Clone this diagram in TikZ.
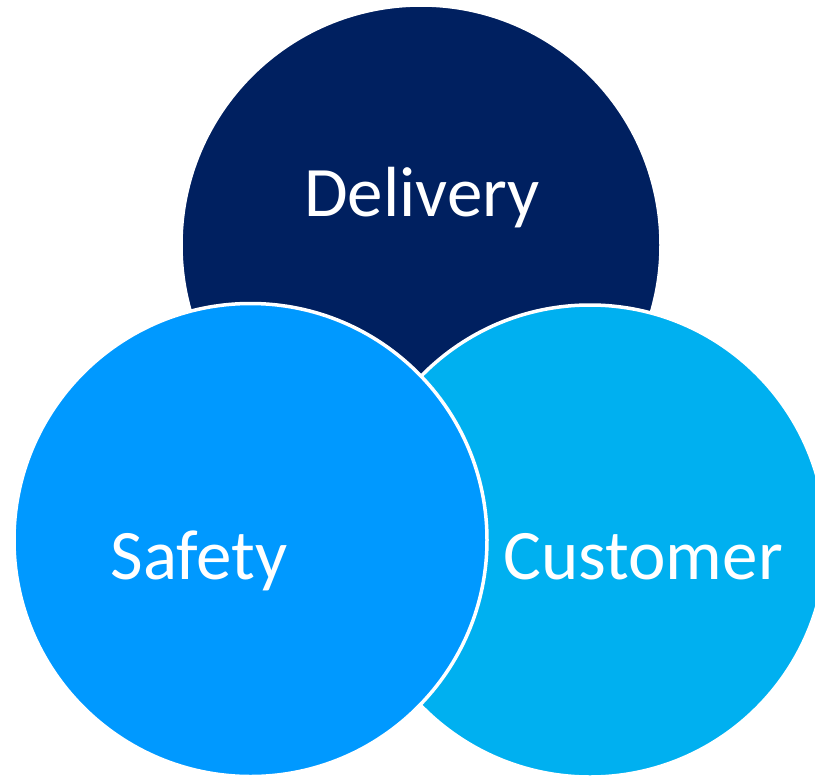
\documentclass[tikz,border=0pt]{standalone}
\usepackage{fontspec}
\setmainfont{Carlito}
\definecolor{cDel}{HTML}{002060}
\definecolor{cSaf}{HTML}{0099FF}
\definecolor{cCus}{HTML}{00B0F0}
\begin{document}
\begin{tikzpicture}[x=1pt,y=-1pt,
  circ/.style={draw=white,line width=3.5pt},
  lbl/.style={text=white,font=\fontsize{71}{71}\selectfont,anchor=base}]
\useasboundingbox (0,0) rectangle (815,777);
\clip (0,0) rectangle (815,777);
\fill[cDel,circ] (421,245) circle[radius=240];
\fill[cCus,circ] (590,541) circle[radius=236];
\fill[cSaf,circ] (250.5,540) circle[radius=236.5];
\node[lbl] (del) at (422,216) {Delivery};
\node[lbl] (saf) at (199,579) {Safety};
\node[lbl] (cus) at (643,579) {Customer};
\end{tikzpicture}
\end{document}
